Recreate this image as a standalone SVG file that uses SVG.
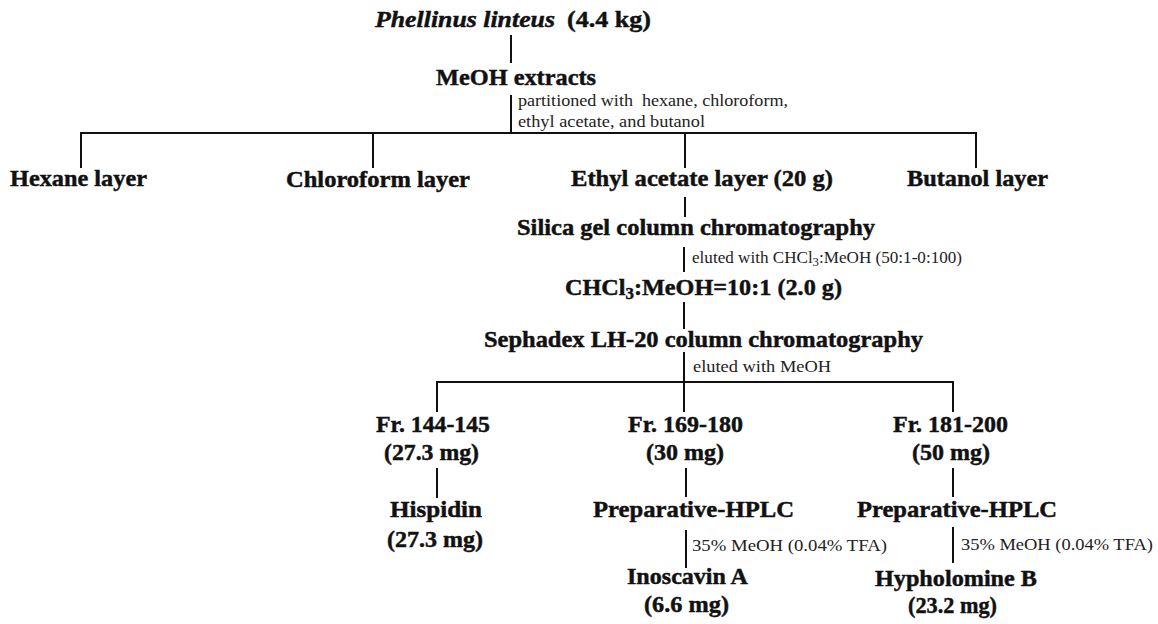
<svg xmlns="http://www.w3.org/2000/svg" width="1158" height="624" viewBox="0 0 1158 624">
  <style>
    .b { font-family: "Liberation Serif", "Times New Roman", serif; font-weight: bold; font-size: 23px; fill: #111; stroke: #111; stroke-width: 0.45px; }
    .i { font-style: italic; }
    .s { font-family: "Liberation Serif", "Times New Roman", serif; font-size: 16px; fill: #222; }
    .ln { stroke: #111; stroke-width: 2; fill: none; }
  </style>
  <rect width="1158" height="624" fill="#fff"/>

  <!-- connectors -->
  <g id="connectors">
    <path class="ln" d="M511 35V63"/>
    <path class="ln" d="M511 95V133"/>
    <path class="ln" d="M81 168V133H976V168"/>
    <path class="ln" d="M373 133V168"/>
    <path class="ln" d="M685 133V168"/>
    <path class="ln" d="M685 197V217"/>
    <path class="ln" d="M684 247V272"/>
    <path class="ln" d="M684 302V329"/>
    <path class="ln" d="M684 352V412"/>
    <path class="ln" d="M437 412V382H953V412"/>
    <path class="ln" d="M437 468V498"/>
    <path class="ln" d="M686 468V497"/>
    <path class="ln" d="M686 530V568"/>
    <path class="ln" d="M953 468V497"/>
    <path class="ln" d="M953 527V563"/>
  </g>

  <!-- step labels -->
  <g id="conditions">
    <text class="s" x="518" y="106" textLength="270" lengthAdjust="spacingAndGlyphs" xml:space="preserve">partitioned with  hexane, chloroform,</text>
    <text class="s" x="518" y="127" textLength="187" lengthAdjust="spacingAndGlyphs">ethyl acetate, and butanol</text>
    <text class="s" x="692" y="263" textLength="270" lengthAdjust="spacingAndGlyphs">eluted with CHCl<tspan font-size="12" dy="3">3</tspan><tspan dy="-3">:MeOH (50:1-0:100)</tspan></text>
    <text class="s" x="693" y="372" textLength="138" lengthAdjust="spacingAndGlyphs">eluted with MeOH</text>
    <text class="s" x="692" y="551" textLength="195" lengthAdjust="spacingAndGlyphs">35% MeOH (0.04% TFA)</text>
    <text class="s" x="961" y="550" textLength="192" lengthAdjust="spacingAndGlyphs">35% MeOH (0.04% TFA)</text>
  </g>

  <g id="source">
    <text class="b i" x="375" y="27" textLength="180" lengthAdjust="spacingAndGlyphs">Phellinus linteus</text>
    <text class="b" x="567" y="27" textLength="84" lengthAdjust="spacingAndGlyphs">(4.4 kg)</text>
  </g>
  <g id="meoh-extracts">
    <text class="b" x="436" y="85" textLength="160" lengthAdjust="spacingAndGlyphs">MeOH extracts</text>
  </g>

  <g id="hexane-layer">
    <text class="b" x="10" y="186" textLength="137" lengthAdjust="spacingAndGlyphs">Hexane layer</text>
  </g>
  <g id="chloroform-layer">
    <text class="b" x="286" y="187" textLength="184" lengthAdjust="spacingAndGlyphs">Chloroform layer</text>
  </g>
  <g id="ethyl-acetate-layer">
    <text class="b" x="571" y="186" textLength="262" lengthAdjust="spacingAndGlyphs">Ethyl acetate layer (20 g)</text>
  </g>
  <g id="butanol-layer">
    <text class="b" x="907" y="186" textLength="141" lengthAdjust="spacingAndGlyphs">Butanol layer</text>
  </g>

  <g id="silica-gel">
    <text class="b" x="517" y="235" textLength="358" lengthAdjust="spacingAndGlyphs">Silica gel column chromatography</text>
  </g>
  <g id="chcl3-fraction">
    <text class="b" x="565" y="295" textLength="277" lengthAdjust="spacingAndGlyphs">CHCl<tspan font-size="16" dy="4">3</tspan><tspan dy="-4">:MeOH=10:1 (2.0 g)</tspan></text>
  </g>
  <g id="sephadex">
    <text class="b" x="484" y="347" textLength="439" lengthAdjust="spacingAndGlyphs">Sephadex LH-20 column chromatography</text>
  </g>

  <g id="fr-144-145">
    <text class="b" x="376" y="432" textLength="114" lengthAdjust="spacingAndGlyphs">Fr. 144-145</text>
    <text class="b" x="384" y="460" textLength="95" lengthAdjust="spacingAndGlyphs">(27.3 mg)</text>
  </g>
  <g id="fr-169-180">
    <text class="b" x="628" y="432" textLength="115" lengthAdjust="spacingAndGlyphs">Fr. 169-180</text>
    <text class="b" x="646" y="460" textLength="78" lengthAdjust="spacingAndGlyphs">(30 mg)</text>
  </g>
  <g id="fr-181-200">
    <text class="b" x="893" y="432" textLength="115" lengthAdjust="spacingAndGlyphs">Fr. 181-200</text>
    <text class="b" x="912" y="460" textLength="78" lengthAdjust="spacingAndGlyphs">(50 mg)</text>
  </g>

  <g id="hispidin">
    <text class="b" x="390" y="517" textLength="92" lengthAdjust="spacingAndGlyphs">Hispidin</text>
    <text class="b" x="387" y="547" textLength="96" lengthAdjust="spacingAndGlyphs">(27.3 mg)</text>
  </g>
  <g id="prep-hplc-1">
    <text class="b" x="593" y="517" textLength="201" lengthAdjust="spacingAndGlyphs">Preparative-HPLC</text>
  </g>
  <g id="inoscavin-a">
    <text class="b" x="627" y="584" textLength="121" lengthAdjust="spacingAndGlyphs">Inoscavin A</text>
    <text class="b" x="644" y="612" textLength="85" lengthAdjust="spacingAndGlyphs">(6.6 mg)</text>
  </g>
  <g id="prep-hplc-2">
    <text class="b" x="857" y="517" textLength="200" lengthAdjust="spacingAndGlyphs">Preparative-HPLC</text>
  </g>
  <g id="hypholomine-b">
    <text class="b" x="875" y="586" textLength="162" lengthAdjust="spacingAndGlyphs">Hypholomine B</text>
    <text class="b" x="908" y="613" textLength="89" lengthAdjust="spacingAndGlyphs">(23.2 mg)</text>
  </g>
</svg>
